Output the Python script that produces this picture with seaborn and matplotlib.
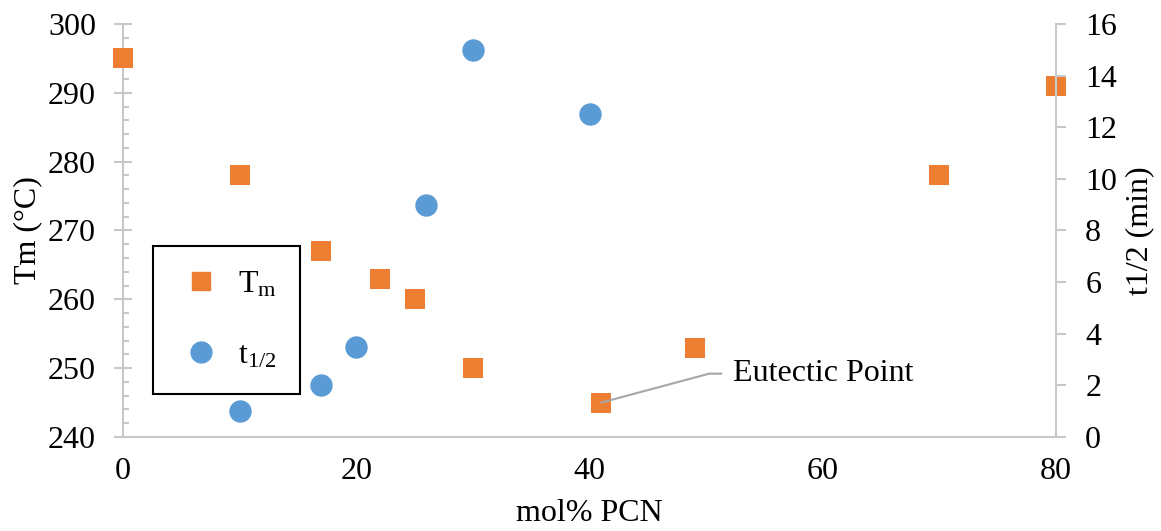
import matplotlib
matplotlib.use("Agg")
import matplotlib.pyplot as plt
import seaborn as sns
import pandas as pd
from matplotlib.ticker import MultipleLocator
from matplotlib.lines import Line2D

tm_x = [0, 10, 17, 22, 25, 30, 41, 49, 70, 80]
tm_y = [295, 278, 267, 263, 260, 250, 245, 253, 278, 291]
th_x = [10, 17, 20, 26, 30, 40]
th_y = [1.0, 2.0, 3.5, 9.0, 15.0, 12.5]

sns.set_theme(style="white")
plt.rcParams['font.family'] = ['Liberation Serif', 'DejaVu Serif']
plt.rcParams['mathtext.fontset'] = 'custom'
plt.rcParams['mathtext.rm'] = 'Liberation Serif'
plt.rcParams['mathtext.it'] = 'Liberation Serif'
plt.rcParams['text.color'] = 'black'
plt.rcParams['axes.labelcolor'] = 'black'
plt.rcParams['xtick.labelcolor'] = 'black'
plt.rcParams['ytick.labelcolor'] = 'black'

ORANGE = '#ED7D31'
BLUE = '#5B9BD5'
GRAY = '#C8C8C8'
FS = 23

fig = plt.figure(figsize=(11.61, 5.31), dpi=100)
ax = fig.add_axes([0.106, 0.177, 0.8036, 0.778])
ax2 = ax.twinx()

df_tm = pd.DataFrame({'x': tm_x, 'y': tm_y})
df_th = pd.DataFrame({'x': th_x, 'y': th_y})
sns.scatterplot(data=df_tm, x='x', y='y', ax=ax, marker='s', s=225, color=ORANGE,
                linewidth=0, zorder=3, clip_on=False)
sns.scatterplot(data=df_th, x='x', y='y', ax=ax2, marker='o', s=260, color=BLUE,
                linewidth=0, zorder=3, clip_on=False)

ax.set_xlim(0, 80)
ax.set_ylim(240, 300)
ax2.set_ylim(0, 16)

ax.xaxis.set_major_locator(MultipleLocator(20))
ax.xaxis.set_minor_locator(MultipleLocator(4))
ax.yaxis.set_major_locator(MultipleLocator(10))
ax.yaxis.set_minor_locator(MultipleLocator(2))
ax2.yaxis.set_major_locator(MultipleLocator(2))

for a in (ax, ax2):
    for s in a.spines.values():
        s.set_color(GRAY)
        s.set_linewidth(1.5)
    a.spines['top'].set_visible(False)
ax.spines['right'].set_visible(False)
ax2.spines['left'].set_visible(False)
ax2.spines['bottom'].set_visible(False)

ax.tick_params(axis='both', which='major', direction='inout', length=13, width=1.5,
               color=GRAY, labelsize=FS, labelcolor='black')
ax.tick_params(axis='both', which='minor', direction='in', length=4.5, width=1.5, color=GRAY)
ax.tick_params(axis='y', which='major', pad=13)
ax.tick_params(axis='x', which='major', pad=8)
ax2.tick_params(axis='y', which='major', direction='out', length=7, width=1.5,
                color=GRAY, labelsize=FS, labelcolor='black', pad=14)

ax.set_xlabel('mol% PCN', fontsize=FS, labelpad=9)
ax.set_ylabel('Tm (°C)', fontsize=FS, labelpad=4)
ax2.set_ylabel('t1/2 (min)', fontsize=FS, labelpad=6)

handles = [Line2D([], [], marker='s', color=ORANGE, linestyle='none', markersize=13),
           Line2D([], [], marker='o', color=BLUE, linestyle='none', markersize=15)]
leg = ax2.legend(handles, [r'T$_{\mathrm{m}}$', r't$_{1/2}$'], loc='upper left',
                 bbox_to_anchor=(0.032, 0.4625), fontsize=FS, frameon=True,
                 fancybox=False, edgecolor='black', labelspacing=1.3,
                 borderpad=0.75, handlelength=1.5, handletextpad=0.4,
                 borderaxespad=0)
leg.get_frame().set_linewidth(1.5)
leg.get_frame().set_facecolor('white')
leg.get_frame().set_alpha(1)

ax.annotate('Eutectic Point', xy=(41, 245), xytext=(52.3, 249.2),
            fontsize=FS, va='center', ha='left',
            arrowprops=dict(arrowstyle='-', color='#A6A6A6', lw=1.5,
                            connectionstyle='angle,angleA=0,angleB=15,rad=0',
                            shrinkA=6, shrinkB=0))

fig.savefig('out.png', dpi=100)
